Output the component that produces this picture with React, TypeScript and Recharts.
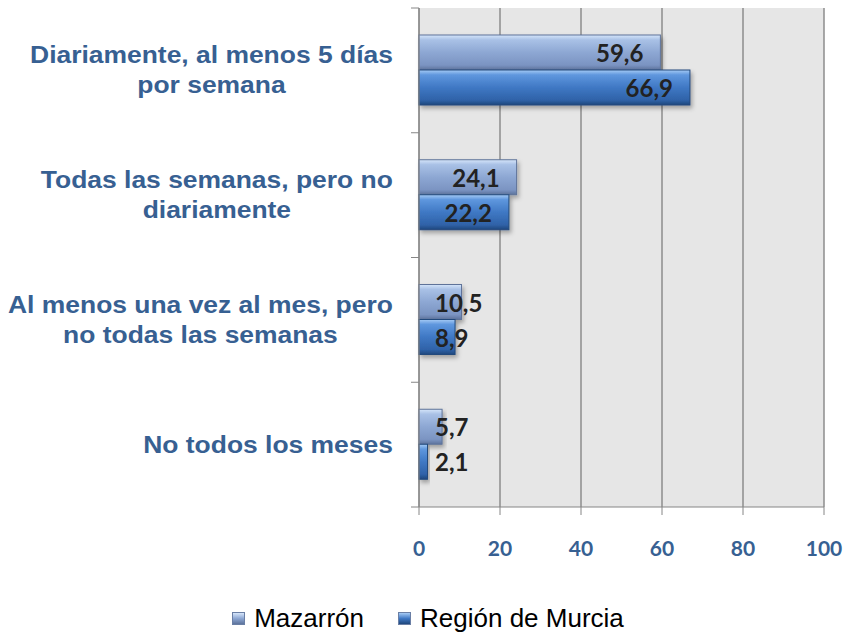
import React from 'react';
import { BarChart, Bar, XAxis, YAxis, CartesianGrid, Legend, LabelList } from 'recharts';

const categories = [
  'Diariamente, al menos 5 días\npor semana',
  'Todas las semanas, pero no\ndiariamente',
  'Al menos una vez al mes, pero\nno todas las semanas',
  'No todos los meses',
];
const seriesNames = ['Mazarrón', 'Región de Murcia'];
const mazarron = [59.6, 24.1, 10.5, 5.7];
const murcia = [66.9, 22.2, 8.9, 2.1];
const xTicks = [0, 20, 40, 60, 80, 100];

const data = categories.map((name, i) => ({ name, mazarron: mazarron[i], murcia: murcia[i] }));

const W = 850;
const H = 632;
const MARGIN = { top: 8, right: 26, bottom: 65, left: 0 };
const YAXIS_W = 419;
const XAXIS_H = 60;
const AXIS_X = MARGIN.left + YAXIS_W;
const PLOT_H = H - MARGIN.top - MARGIN.bottom - XAXIS_H;
const HALF_BAND = PLOT_H / categories.length / 2;
const LABEL_RIGHT = 393;

const BLUE_TEXT = '#376092';
const AXIS_GRAY = '#868686';
const CAT_FONT_SIZE = 23;
const CAT_STRETCH = 1.15; // the category text in the original is wide
const CAT_FONT = `bold ${CAT_FONT_SIZE}px "Liberation Sans"`;
const VAL_FONT_SIZE = 24;
const VAL_FONT = `bold ${VAL_FONT_SIZE}px Lato`;

let ctx: CanvasRenderingContext2D | null = null;
const measure = (text: string, font: string) => {
  if (!ctx) ctx = document.createElement('canvas').getContext('2d');
  if (!ctx) return text.length * 10;
  ctx.font = font;
  return ctx.measureText(text).width;
};

const CategoryTick = (props: any) => {
  const { y, payload, index } = props;
  const lines = String(payload.value).split('\n');
  const maxW = Math.max(...lines.map((l) => measure(l, CAT_FONT))) * CAT_STRETCH;
  const cx = LABEL_RIGHT - maxW / 2;
  const lineH = 30;
  const firstY = y - ((lines.length - 1) * lineH) / 2;
  return (
    <g>
      <line x1={AXIS_X - 8} x2={AXIS_X} y1={y - HALF_BAND} y2={y - HALF_BAND} stroke={AXIS_GRAY} />
      {index === categories.length - 1 && (
        <line x1={AXIS_X - 8} x2={AXIS_X} y1={y + HALF_BAND} y2={y + HALF_BAND} stroke={AXIS_GRAY} />
      )}
      <text
        transform={`translate(${cx},0) scale(${CAT_STRETCH},1)`}
        textAnchor="middle"
        fill={BLUE_TEXT}
        fontFamily='"Liberation Sans", Arial, sans-serif'
        fontWeight="bold"
        fontSize={CAT_FONT_SIZE}
      >
        {lines.map((l, i) => (
          <tspan key={i} x={0} y={firstY + i * lineH + 8}>
            {l}
          </tspan>
        ))}
      </text>
    </g>
  );
};

const ValueLabel = (props: any) => {
  const { x, y, width, height, value } = props;
  const txt = String(value).replace('.', ',');
  const tw = measure(txt, VAL_FONT);
  const left = Math.max(x + width - 17 - tw, x + 16);
  return (
    <text
      x={left}
      y={y + height / 2}
      dominantBaseline="central"
      fill="#222"
      fontFamily="Lato, sans-serif"
      fontWeight="bold"
      fontSize={VAL_FONT_SIZE}
    >
      {txt}
    </text>
  );
};

const BevelBar = (props: any) => {
  const { x, y, width, height, fill, stroke } = props;
  if (!width || width <= 0) return null;
  return (
    <rect
      x={x}
      y={y}
      width={width}
      height={height}
      fill={fill}
      stroke={stroke}
      strokeWidth={1}
      filter="url(#barShadow)"
    />
  );
};

const legendSwatch = [
  'linear-gradient(#d6e6fa, #8da7d3 50%, #5d739c)',
  'linear-gradient(#a6cbf5, #3f78c4 50%, #1f477c)',
];

const renderLegend = () => (
  <div
    style={{
      display: 'flex',
      justifyContent: 'center',
      alignItems: 'center',
      gap: 34,
      fontFamily: '"Liberation Sans", Arial, sans-serif',
      fontSize: 26,
      color: '#000',
      paddingLeft: 6,
    }}
  >
    {seriesNames.map((n, i) => (
      <div key={n} style={{ display: 'flex', alignItems: 'center' }}>
        <span
          style={{
            display: 'inline-block',
            width: 11,
            height: 11,
            marginRight: 9,
            background: legendSwatch[i],
            border: '1px solid #6a7fa5',
          }}
        />
        {n}
      </div>
    ))}
  </div>
);

export default function App() {
  return (
    <div style={{ position: 'absolute', left: 0, top: 0, width: W, height: H, background: '#fff' }}>
      <BarChart
        width={W}
        height={H}
        data={data}
        layout="vertical"
        margin={MARGIN}
        barGap={0}
        barSize={35}
      >
        <defs>
          <linearGradient id="gradMaz" x1="0" y1="0" x2="0" y2="1">
            <stop offset="0" stopColor="#d6e6fa" />
            <stop offset="0.14" stopColor="#a9c1e6" />
            <stop offset="0.5" stopColor="#8da7d3" />
            <stop offset="0.86" stopColor="#7b94c2" />
            <stop offset="1" stopColor="#5d739c" />
          </linearGradient>
          <linearGradient id="gradMur" x1="0" y1="0" x2="0" y2="1">
            <stop offset="0" stopColor="#a6cbf5" />
            <stop offset="0.14" stopColor="#5f97de" />
            <stop offset="0.5" stopColor="#3f78c4" />
            <stop offset="0.86" stopColor="#2f62a8" />
            <stop offset="1" stopColor="#1f477c" />
          </linearGradient>
          <filter id="barShadow" x="-10%" y="-20%" width="130%" height="160%">
            <feDropShadow dx="2" dy="3" stdDeviation="2" floodColor="#000" floodOpacity="0.3" />
          </filter>
        </defs>
        <CartesianGrid horizontal={false} stroke="#8c8c8c" strokeWidth={1.5} fill="#e6e6e6" />
        <XAxis
          type="number"
          domain={[0, 100]}
          ticks={xTicks}
          height={XAXIS_H}
          axisLine={{ stroke: AXIS_GRAY }}
          tickLine={{ stroke: AXIS_GRAY }}
          tickSize={8}
          tickMargin={26}
          tick={{ fill: BLUE_TEXT, fontFamily: 'Lato, sans-serif', fontWeight: 'bold', fontSize: 21 }}
        />
        <YAxis
          type="category"
          dataKey="name"
          width={YAXIS_W}
          interval={0}
          axisLine={{ stroke: AXIS_GRAY }}
          tickLine={false}
          tick={<CategoryTick />}
        />
        <Legend
          content={renderLegend}
          verticalAlign="middle"
          align="center"
          wrapperStyle={{ top: 603, left: 0, width: W }}
        />
        <Bar
          dataKey="mazarron"
          name={seriesNames[0]}
          fill="url(#gradMaz)"
          stroke="#5f7399"
          shape={<BevelBar />}
          isAnimationActive={false}
        >
          <LabelList dataKey="mazarron" content={<ValueLabel />} />
        </Bar>
        <Bar
          dataKey="murcia"
          name={seriesNames[1]}
          fill="url(#gradMur)"
          stroke="#22497c"
          shape={<BevelBar />}
          isAnimationActive={false}
        >
          <LabelList dataKey="murcia" content={<ValueLabel />} />
        </Bar>
      </BarChart>
    </div>
  );
}
